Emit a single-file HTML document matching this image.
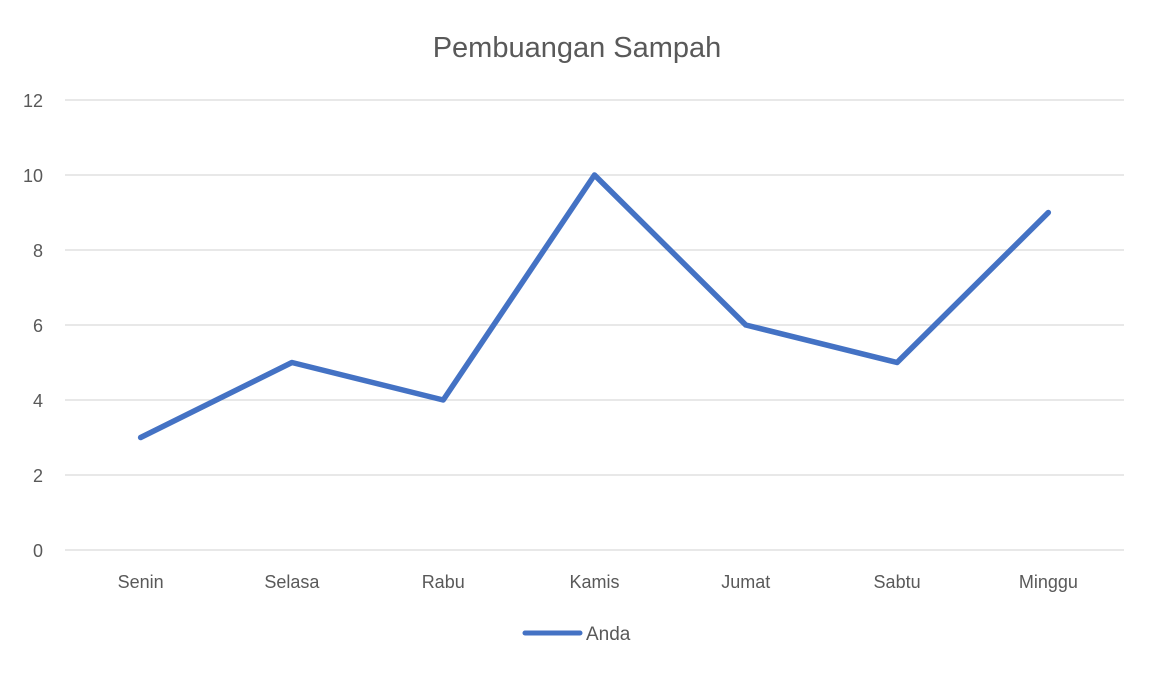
<!DOCTYPE html>
<html><head><meta charset="utf-8"><style>
body{margin:0;background:#fff;width:1154px;height:671px;overflow:hidden;font-family:"Liberation Sans",sans-serif}
</style></head><body>
<svg id="chart" width="1154" height="671" xmlns="http://www.w3.org/2000/svg">
<rect width="1154" height="671" fill="#fff"/>
<text x="577" y="57" text-anchor="middle" font-size="29" fill="#595959">Pembuangan Sampah</text>
<g id="grid"></g><g id="yticks"></g><g id="xticks"></g><g id="series"></g>
<line x1="525" y1="633" x2="580" y2="633" stroke="#4472C4" stroke-width="5" stroke-linecap="round"/>
<text x="586" y="640" font-size="19" fill="#595959">Anda</text>
</svg>
<script>
const categories=["Senin","Selasa","Rabu","Kamis","Jumat","Sabtu","Minggu"];
const values=[3,5,4,10,6,5,9];
const yTicks=[0,2,4,6,8,10,12];
const NS="http://www.w3.org/2000/svg";
const x0=65,x1=1124,y0=550,y1=100,yMax=12;
const bw=(x1-x0)/categories.length;
function xs(i){return x0+bw*(i+0.5);}
function ys(v){return y0-(v/yMax)*(y0-y1);}
function mk(t,a,p){const e=document.createElementNS(NS,t);for(const k in a)e.setAttribute(k,a[k]);p.appendChild(e);return e;}
const grid=document.getElementById('grid'),yt=document.getElementById('yticks'),xt=document.getElementById('xticks'),se=document.getElementById('series');
yTicks.forEach(v=>{
 const l=mk('line',{x1:x0,x2:x1,y1:ys(v),y2:ys(v),stroke:'#d9d9d9','stroke-width':1.3},grid);
 
 
 const t=mk('text',{x:43,y:ys(v)+7,'text-anchor':'end','font-size':18,fill:'#595959'},yt);
 t.textContent=v;
 
 
});
categories.forEach((c,i)=>{
 const t=mk('text',{x:xs(i),y:588,'text-anchor':'middle','font-size':18,fill:'#595959'},xt);
 t.textContent=c;
 
 
});
const pl=mk('polyline',{points:values.map((v,i)=>xs(i)+','+ys(v)).join(' '),fill:'none',stroke:'#4472C4','stroke-width':5.5,'stroke-linejoin':'round','stroke-linecap':'round'},se);


</script>
</body></html>
